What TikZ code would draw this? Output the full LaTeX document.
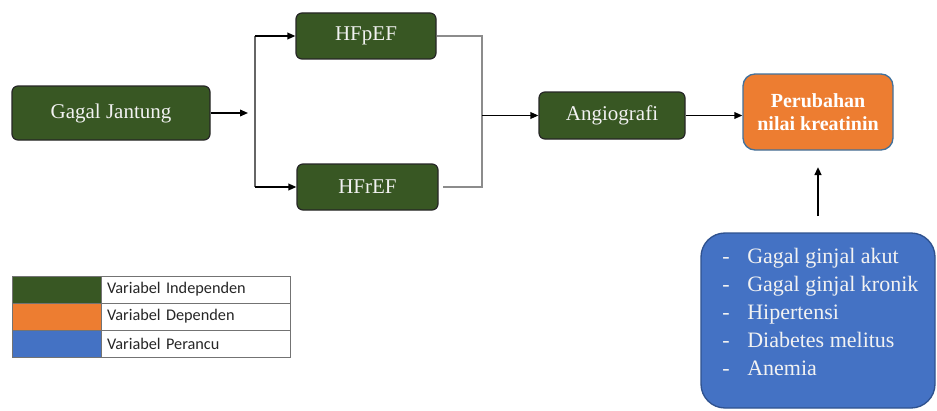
\documentclass[tikz,border=0pt]{standalone}
\usepackage{fontspec}
\setmainfont{Liberation Serif}
\newfontfamily\legendfont{Carlito}
\usetikzlibrary{arrows.meta}
\definecolor{boxgreen}{HTML}{385723}
\definecolor{boxorange}{HTML}{ED7D31}
\definecolor{boxblue}{HTML}{4472C4}
\definecolor{bordblue}{HTML}{41719C}
\definecolor{bordblue2}{HTML}{2F528F}
\definecolor{txtlight}{HTML}{F2F2F2}
\definecolor{legtext}{HTML}{262626}
\tikzset{
  greenbox/.style={draw=black!85, line width=0.9pt, fill=boxgreen, rounded corners=4.5pt,
    text=txtlight, font=\fontsize{15.75}{18}\selectfont, inner sep=0pt},
  orangebox/.style={draw=bordblue, line width=1pt, fill=boxorange, rounded corners=9pt,
    text=white, align=center, font=\bfseries\fontsize{15}{17.25}\selectfont, inner sep=0pt},
  bluebox/.style={draw=bordblue2, line width=1pt, fill=boxblue, rounded corners=18pt, inner sep=0pt},
  listtext/.style={text=txtlight, inner sep=0pt, font=\fontsize{16.5}{21}\selectfont},
  arr/.style={-{Triangle[length=6pt,width=5pt]}, line width=1.1pt, black},
  link/.style={draw=black!45, line width=0.9pt},
  branch/.style={draw=black!60, line width=1pt},
  legcolor/.style={draw=black!55, line width=0.6pt, minimum width=66.75pt, minimum height=20.25pt, inner sep=0pt},
  legtextbox/.style={draw=black!55, line width=0.6pt, minimum width=141.75pt, minimum height=20.25pt,
    text width=132.75pt, align=left, inner xsep=4.5pt, inner ysep=0pt, text=legtext,
    font=\legendfont\fontsize{12.2}{13}\selectfont},
}
\begin{document}
\begin{tikzpicture}[x=0.75pt,y=-0.75pt]
\useasboundingbox[fill=white] (0,0) rectangle (937,410);

% main boxes
\node[greenbox, minimum width=148.5pt, minimum height=40.5pt] (gj) at (111,113) {Gagal Jantung};
\node[greenbox, minimum width=105pt, minimum height=34.5pt] (hfp) at (366,36) {HFpEF};
\node[greenbox, minimum width=105.75pt, minimum height=34.5pt] (hfr) at (367.5,187) {HFrEF};
\node[greenbox, minimum width=109.5pt, minimum height=35.25pt] (ang) at (612,115.5) {Angiografi};
\node[orangebox, minimum width=112.5pt, minimum height=57pt] (per) at (818,112) {Perubahan\\nilai kreatinin};

% confounders
\node[bluebox, minimum width=175.5pt, minimum height=131.25pt] (conf) at (818,320.5) {};
\node[listtext, anchor=base west] (conflist) at (722,263) {%
  \begin{tabular}[t]{@{}l@{}}
  \makebox[18.75pt][l]{-}Gagal ginjal akut\\
  \makebox[18.75pt][l]{-}Gagal ginjal kronik\\
  \makebox[18.75pt][l]{-}Hipertensi\\
  \makebox[18.75pt][l]{-}Diabetes melitus\\
  \makebox[18.75pt][l]{-}Anemia
  \end{tabular}};

% connectors
\coordinate (gjend) at (248,113);
\draw[arr] (gj.east) -- (gjend);
\coordinate (bt) at (255,36);
\coordinate (bb) at (255,187);
\draw[branch] (bt) -- (bb);
\draw[arr] (bt) -- (hfp.west);
\draw[arr] (bb) -- (hfr.west);

\coordinate (rt) at (482,36);
\coordinate (rb) at (482,187);
\coordinate (rm) at (482,115.5);
\draw[link] (hfp.east) -- (rt) -- (rb) -- ([xshift=3pt]hfr.east);
\draw[arr] (rm) -- (ang.west);
\draw[arr] (ang.east) -- (ang.east -| per.west);

\coordinate (cb) at (818,216);
\coordinate (ct) at (818,167);
\draw[arr, line width=1.5pt] (cb) -- (ct);

% legend
\node[legcolor, fill=boxgreen] (l1c) at (56.5,289.5) {};
\node[legcolor, fill=boxorange] (l2c) at (56.5,316.5) {};
\node[legcolor, fill=boxblue] (l3c) at (56.5,343.5) {};
\node[legtextbox] (l1t) at (195.5,289.5) {Variabel Independen};
\node[legtextbox] (l2t) at (195.5,316.5) {Variabel Dependen};
\node[legtextbox] (l3t) at (195.5,343.5) {Variabel Perancu};
\end{tikzpicture}
\end{document}
